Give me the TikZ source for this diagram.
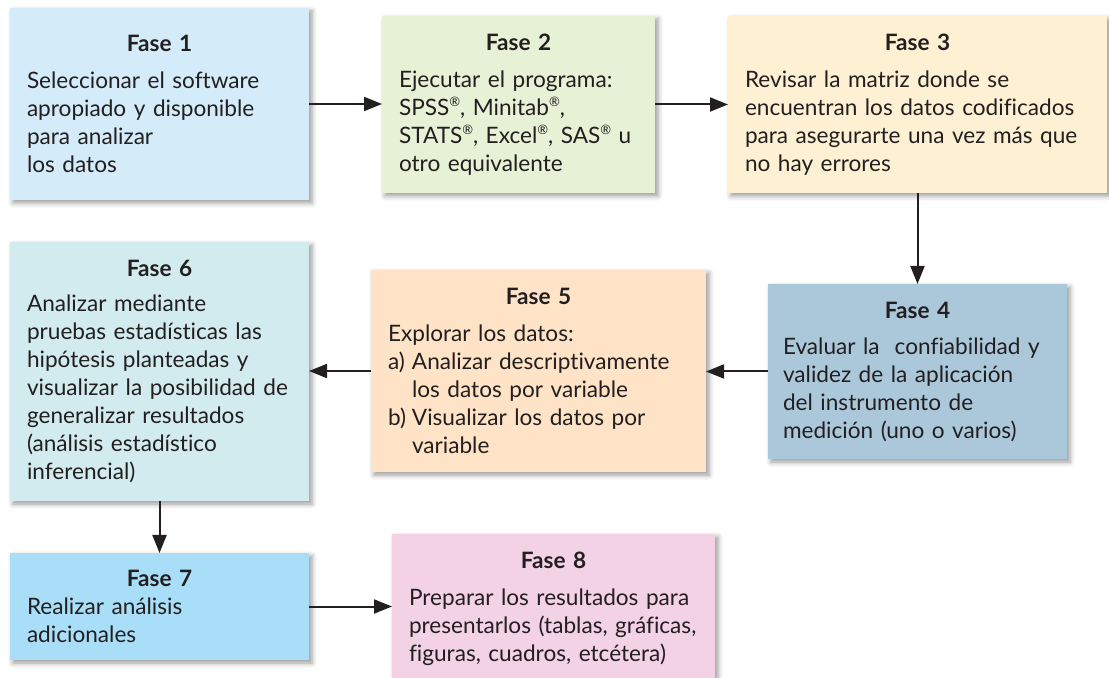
\documentclass[tikz,border=0pt]{standalone}
\usepackage{fontspec}
\setmainfont{Lato}[Ligatures=CommonOff]
\usetikzlibrary{arrows.meta,shadows.blur}

\definecolor{tinta}{HTML}{231F20}
\definecolor{cfase1}{HTML}{D4ECF9}
\definecolor{cfase2}{HTML}{E7F1D5}
\definecolor{cfase3}{HTML}{FEF1D3}
\definecolor{cfase4}{HTML}{AAC8DA}
\definecolor{cfase5}{HTML}{FEE3C7}
\definecolor{cfase6}{HTML}{D2EBEF}
\definecolor{cfase7}{HTML}{A9DEF8}
\definecolor{cfase8}{HTML}{F2D2E4}

\newcommand{\ftitulo}[1]{\makebox[\hsize]{\bfseries Fase #1}}
\newcommand{\finciso}[1]{\makebox[12pt][l]{#1}}
\newcommand{\reg}{\raisebox{0.38em}{\fontsize{6.5pt}{7pt}\selectfont ®}}

\begin{document}
\begin{tikzpicture}[x=0.5pt, y=-0.5pt,
  fase/.style={rectangle, outer sep=0pt, inner xsep=8.5pt, inner ysep=0pt,
    align=left, text=tinta, font=\fontsize{11.3pt}{14pt}\selectfont,
    blur shadow={shadow xshift=1.5pt, shadow yshift=-1.5pt,
      shadow blur radius=2.5pt, shadow opacity=40}},
  flecha/.style={draw=tinta, line width=1pt, -{Triangle[length=9pt, width=7pt]}}]
  \useasboundingbox (0,0) rectangle (1109,678);
  \clip (0,0) rectangle (1109,678);

  \node[fase, fill=cfase1, minimum width=149.5pt, minimum height=96pt, text width=132.5pt]
    (fase1) at (159.5,104) {\ftitulo{1}\\[4.5pt]
      Seleccionar el software\\ apropiado y disponible\\ para analizar\\ los datos};
  \node[fase, fill=cfase2, minimum width=136.5pt, minimum height=88.5pt, text width=119.5pt]
    (fase2) at (518.5,104.5) {\ftitulo{2}\\[4.5pt]
      Ejecutar el programa:\\ SPSS\reg, Minitab\reg,\\ STATS\reg, Excel\reg, SAS\reg~u\\ otro equivalente};
  \node[fase, fill=cfase3, minimum width=189.5pt, minimum height=88.5pt, text width=172.5pt]
    (fase3) at (917.5,104.5) {\ftitulo{3}\\[4.5pt]
      Revisar la matriz donde se\\ encuentran los datos codificados\\ para asegurarte una vez más que\\ no hay errores};
  \node[fase, fill=cfase4, minimum width=149.5pt, minimum height=87.5pt, text width=134.5pt, inner xsep=7.5pt]
    (fase4) at (917.5,371.5) {\ftitulo{4}\\[4pt]
      Evaluar la\ \ confiabilidad y\\ validez de la aplicación\\ del instrumento de\\ medición (uno o varios)};
  \node[fase, fill=cfase5, minimum width=167.5pt, minimum height=101pt, text width=150.5pt]
    (fase5) at (538.5,371) {\ftitulo{5}\\[4.5pt]
      Explorar los datos:\\
      \finciso{a)}Analizar descriptivamente\\ \finciso{}los datos por variable\\
      \finciso{b)}Visualizar los datos por\\ \finciso{}variable};
  \node[fase, fill=cfase6, minimum width=149.5pt, minimum height=129.5pt, text width=132.5pt]
    (fase6) at (159.5,371.5) {\ftitulo{6}\\[3.5pt]
      Analizar mediante\\ pruebas estadísticas las\\ hipótesis planteadas y\\
      visualizar la posibilidad de\\ generalizar resultados\\ (análisis estadístico\\ inferencial)};
  \node[fase, fill=cfase7, minimum width=149.5pt, minimum height=53.5pt, text width=132.5pt]
    (fase7) at (159.5,606.5) {\ftitulo{7}\\
      Realizar análisis\\ adicionales};
  \node[fase, fill=cfase8, minimum width=160.5pt, minimum height=83pt, text width=144.5pt, anchor=north]
    (fase8) at (553.5,534) {\ftitulo{8}\\[4.5pt]
      Preparar los resultados para\\ presentarlos (tablas, gráficas,\\ figuras, cuadros, etcétera)\par\vspace{8pt}};

  % conectores
  \draw[flecha] (fase1.east) -- (fase1.east -| fase2.west);
  \draw[flecha] (fase2.east) -- (fase2.east -| fase3.west);
  \draw[flecha] (fase3.south) -- (fase4.north);
  \draw[flecha] (fase4.west) -- (fase4.west -| fase5.east);
  \draw[flecha] (fase5.west) -- (fase5.west -| fase6.east);
  \draw[flecha] (fase6.south) -- (fase7.north);
  \draw[flecha] (fase7.east) -- (fase7.east -| fase8.west);
\end{tikzpicture}
\end{document}
